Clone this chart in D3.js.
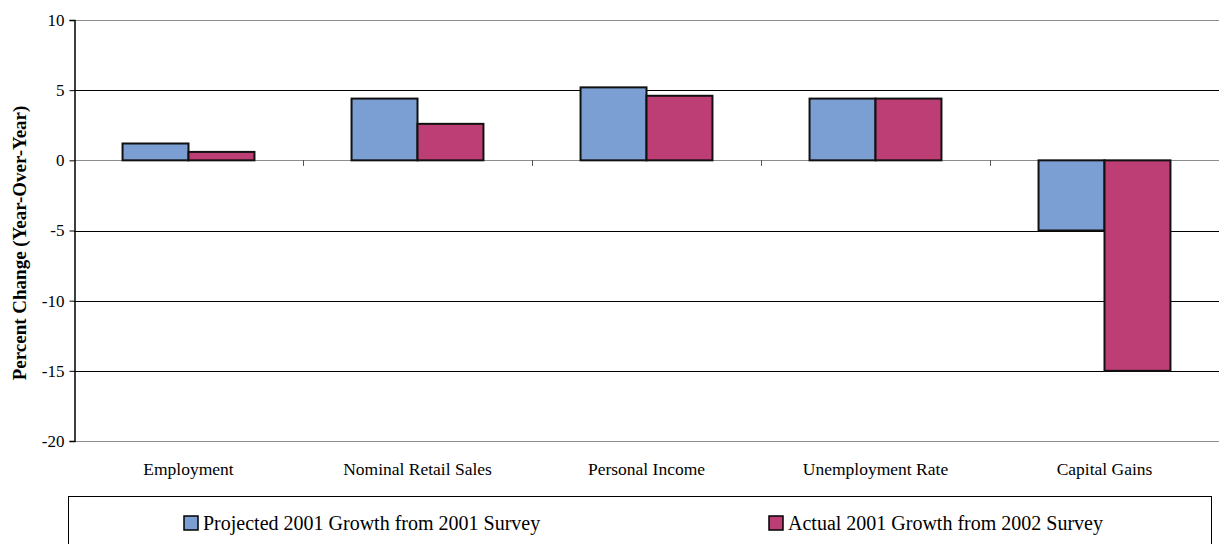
<!DOCTYPE html>
<html>
<head>
<meta charset="utf-8">
<script src="https://cdn.jsdelivr.net/npm/d3@7"></script>
<style>
  html, body { margin: 0; padding: 0; background: #fff; }
  svg { display: block; font-family: "Liberation Serif", "Times New Roman", serif; }
</style>
</head>
<body>
<svg id="chart" width="1221" height="544"></svg>
<script>
// Survey indicators, projected vs actual 2001 growth (percent, year over year)
const categories = ["Employment", "Nominal Retail Sales", "Personal Income", "Unemployment Rate", "Capital Gains"];
const projected2001 = [1.2, 4.4, 5.2, 4.4, -5.0];
const actual2001 = [0.6, 2.6, 4.6, 4.4, -15.0];
const seriesNames = ["Projected 2001 Growth from 2001 Survey", "Actual 2001 Growth from 2002 Survey"];
const seriesColors = ["#7b9fd2", "#bc3e74"];
const yTicks = [10, 5, 0, -5, -10, -15, -20];

const svg = d3.select("#chart");
const margin = { left: 74, right: 2, top: 20, bottom: 103 };
const W = 1221, H = 544;
const x0 = margin.left, x1 = W - margin.right;
const yTop = margin.top, yBot = H - margin.bottom;

const x = d3.scaleBand().domain(categories).range([x0, x1]).paddingInner(0).paddingOuter(0);
const y = d3.scaleLinear().domain([-20, 10]).range([yBot, yTop]);
const barW = x.bandwidth() * 0.288;

// horizontal gridlines
svg.append("g").selectAll("line").data(yTicks).join("line")
  .attr("x1", x0).attr("x2", x1)
  .attr("y1", d => Math.round(y(d)) + 0.5).attr("y2", d => Math.round(y(d)) + 0.5)
  .attr("stroke", d => (d === 10 || d === -20 || d === 0) ? "#8c8c8c" : "#000")
  .attr("stroke-width", 1);

// bars
const series = [projected2001, actual2001];
series.forEach((vals, si) => {
  svg.append("g").selectAll("rect").data(vals).join("rect")
    .attr("x", (d, i) => x(categories[i]) + x.bandwidth() / 2 - barW + si * barW)
    .attr("y", d => y(Math.max(0, d)))
    .attr("width", barW)
    .attr("height", d => Math.abs(y(d) - y(0)))
    .attr("fill", seriesColors[si])
    .attr("stroke", "#111")
    .attr("stroke-width", 2);
});

// y axis
const yAxis = d3.axisLeft(y).tickValues(yTicks).tickSize(5).tickPadding(5)
  .tickFormat(d => String(d));
const gy = svg.append("g").attr("transform", `translate(${x0 + 0.5},0)`).call(yAxis);
gy.select(".domain").attr("stroke", "#000").attr("stroke-width", 1.5);
gy.selectAll(".tick line").attr("stroke", "#000");
gy.selectAll(".tick text").attr("font-size", 17).attr("fill", "#000")
  .attr("font-family", "Liberation Serif, Times New Roman, serif");

// category separator ticks below the zero line
svg.append("g").selectAll("line").data(categories.slice(1)).join("line")
  .attr("x1", d => Math.round(x(d)) + 0.5).attr("x2", d => Math.round(x(d)) + 0.5)
  .attr("y1", Math.round(y(0))).attr("y2", Math.round(y(0)) + 6)
  .attr("stroke", "#555");

// category labels
svg.append("g").selectAll("text").data(categories).join("text")
  .attr("x", d => x(d) + x.bandwidth() / 2)
  .attr("y", 475)
  .attr("text-anchor", "middle")
  .attr("font-size", 17.5)
  .text(d => d);

// y axis title
svg.append("text")
  .attr("transform", `translate(26,${243}) rotate(-90)`)
  .attr("text-anchor", "middle")
  .attr("font-size", 19)
  .attr("font-weight", "bold")
  .text("Percent Change (Year-Over-Year)");

// legend
const lg = svg.append("g");
lg.append("rect").attr("x", 68.5).attr("y", 496.5).attr("width", 1143).attr("height", 60)
  .attr("fill", "#fff").attr("stroke", "#000").attr("stroke-width", 1);
const legendX = [184, 769];
seriesNames.forEach((name, i) => {
  lg.append("rect").attr("x", legendX[i]).attr("y", 516).attr("width", 14).attr("height", 14)
    .attr("fill", seriesColors[i]).attr("stroke", "#000").attr("stroke-width", 1.5);
  lg.append("text").attr("x", legendX[i] + 19).attr("y", 530)
    .attr("font-size", 20).text(name);
});
</script>
</body>
</html>
